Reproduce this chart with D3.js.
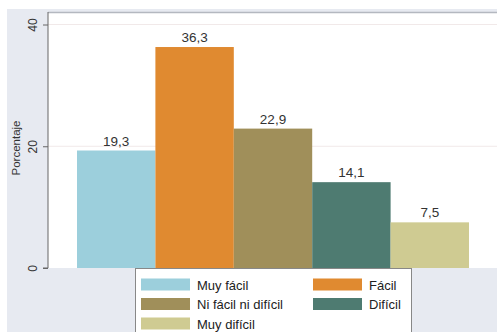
<!DOCTYPE html>
<html><head><meta charset="utf-8">
<script src="https://cdn.jsdelivr.net/npm/d3@7"></script>
<style>body{margin:0;background:#fff}svg{display:block}</style>
</head><body>
<script>
const categories = ["Muy fácil", "Fácil", "Ni fácil ni difícil", "Difícil", "Muy difícil"];
const values = [19.3, 36.3, 22.9, 14.1, 7.5];
const colors = ["#9ccfdc", "#e08a30", "#a08f5a", "#4e7b71", "#cfcb92"];
const yTicks = [0, 20, 40];
const yTitle = "Porcentaje";

const W = 497, H = 332;
const svg = d3.select("body").append("svg").attr("width", W).attr("height", H)
  .style("font-family", "Arial, 'Liberation Sans', sans-serif");

svg.append("rect").attr("x", 0).attr("y", 0).attr("width", W).attr("height", H).attr("fill", "#fff");
svg.append("rect").attr("x", 7).attr("y", 9).attr("width", W - 7).attr("height", H - 9).attr("fill", "#e7eaf1");

const plot = {left: 48, top: 12, right: 497, bottom: 268};
svg.append("rect").attr("x", plot.left).attr("y", plot.top)
  .attr("width", plot.right - plot.left).attr("height", plot.bottom - plot.top).attr("fill", "#fff");
svg.append("line").attr("x1", plot.left).attr("x2", plot.right).attr("y1", plot.top + 0.5).attr("y2", plot.top + 0.5)
  .attr("stroke", "#b4b8c0").attr("stroke-width", 1.5);

const x = d3.scaleBand().domain(categories).range([77, 469]).padding(0);
const y = d3.scaleLinear().domain([0, 40]).range([268, 24.5]);

// gridlines
svg.append("g").selectAll("line").data(yTicks.filter(t => t > 0)).join("line")
  .attr("x1", plot.left).attr("x2", plot.right)
  .attr("y1", d => y(d)).attr("y2", d => y(d))
  .attr("stroke", "#f1e9e9").attr("stroke-width", 1);

// bars
svg.append("g").selectAll("rect").data(values).join("rect")
  .attr("x", (d, i) => x(categories[i]))
  .attr("y", d => y(d))
  .attr("width", x.bandwidth())
  .attr("height", d => y(0) - y(d))
  .attr("fill", (d, i) => colors[i]);

// value labels
svg.append("g").selectAll("text").data(values).join("text")
  .attr("x", (d, i) => x(categories[i]) + x.bandwidth() / 2)
  .attr("y", d => y(d) - 5)
  .attr("text-anchor", "middle")
  .attr("font-size", 13.5)
  .attr("fill", "#333")
  .text(d => d.toFixed(1).replace(".", ","));

// y axis
const axis = d3.axisLeft(y).tickValues(yTicks).tickSize(5).tickPadding(4);
const ag = svg.append("g").attr("transform", `translate(${plot.left},0)`).call(axis);
ag.select(".domain").attr("stroke", "#666").attr("d", `M-5,${y(0)}H0V${plot.top}`);
ag.selectAll(".tick line").attr("stroke", "#666");
ag.selectAll(".tick text")
  .attr("font-size", 12).attr("fill", "#333")
  .attr("text-anchor", "middle")
  .attr("transform", "rotate(-90)")
  .attr("x", 0).attr("dy", 0)
  .attr("y", -10);
ag.selectAll(".tick text").each(function() {
  d3.select(this).attr("transform", "rotate(-90)").attr("y", -11);
});

svg.append("text")
  .attr("transform", `translate(20,148) rotate(-90)`)
  .attr("text-anchor", "middle")
  .attr("font-size", 11.5).attr("fill", "#333")
  .text(yTitle);

// legend
const lg = svg.append("g");
lg.append("rect").attr("x", 135.5).attr("y", 268.5).attr("width", 276).attr("height", 70)
  .attr("fill", "#fff").attr("stroke", "#888").attr("stroke-width", 1);
const legPos = [
  {col: 0, row: 0}, {col: 1, row: 0}, {col: 0, row: 1}, {col: 1, row: 1}, {col: 0, row: 2}
];
categories.forEach((c, i) => {
  const p = legPos[i];
  const sx = p.col === 0 ? 141 : 313;
  const sy = 278.5 + p.row * 19.5;
  lg.append("rect").attr("x", sx).attr("y", sy).attr("width", 49).attr("height", 12).attr("fill", colors[i]);
  lg.append("text").attr("x", sx + 56).attr("y", sy + 11)
    .attr("font-size", 13).attr("fill", "#222").text(c);
});
</script>
</body></html>
